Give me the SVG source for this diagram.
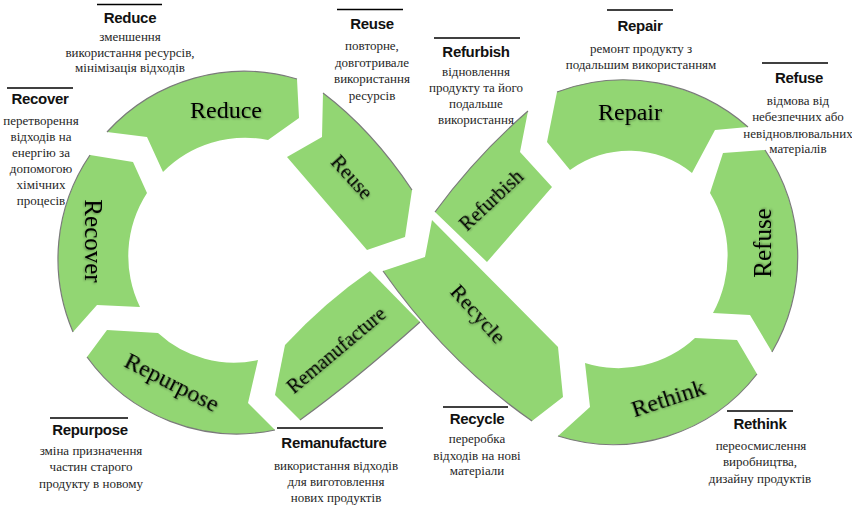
<svg xmlns="http://www.w3.org/2000/svg" width="852" height="507" viewBox="0 0 852 507">
<defs>
<filter id="ts" x="-10%" y="-30%" width="130%" height="160%">
<feDropShadow dx="1" dy="1" stdDeviation="0.8" flood-color="#000" flood-opacity="0.35"/>
</filter>
<style>
.seg{fill:#92D673;stroke:none}
.edge{fill:none;stroke:#7a7a7a;stroke-width:1.2}
.lbl{font-family:"Liberation Serif","Times New Roman",serif;font-size:24px;fill:#000;text-anchor:middle;filter:url(#ts)}
.hd{font-family:"Liberation Sans",Arial,sans-serif;font-weight:bold;font-size:15px;letter-spacing:-0.3px;fill:#111;text-anchor:middle}
.bd{font-family:"Liberation Serif","Times New Roman",serif;font-size:13px;fill:#262626;text-anchor:middle}
.rule{stroke:#000;stroke-width:1.3}
</style>
</defs>
<rect width="852" height="507" fill="#fff"/>

<g id="connectors"></g>

<g id="seg-reduce">
<path class="seg" d="M107,132 A185,185 0 0 1 297,79 L299,118 L268,140 A116,116 0 0 0 163,172 L147,137 Z"/>
<path class="edge" d="M107,132 A185,185 0 0 1 297,79"/>
<text class="lbl" transform="translate(226,110)" y="8">Reduce</text>
</g>

<g id="seg-recover">
<path class="seg" d="M90,155 L133,162 L147,193 A116,116 0 0 0 140,307 L97,305 L73,332 A185,185 0 0 1 90,155 Z"/>
<path class="edge" d="M73,332 A185,185 0 0 1 90,155"/>
<text class="lbl" style="font-size:25px" transform="translate(93,241) rotate(90)" y="8">Recover</text>
</g>

<g id="seg-repurpose">
<path class="seg" d="M87,357 L107,330 L158,333 A112,112 0 0 0 258,360 L248,403 L275,430 A185,185 0 0 1 87,357 Z"/>
<path class="edge" d="M275,430 A185,185 0 0 1 87,357"/>
<text class="lbl" transform="translate(172,382) rotate(27)" y="8">Repurpose</text>
</g>

<g id="seg-remanufacture">
<path class="seg" d="M370,271 L420,322 Q354,381 300,420 L275,395 L285,345 Q325,302 370,271 Z"/>
<path class="edge" d="M420,322 Q354,381 300,420"/>
<text class="lbl" style="font-size:20px" transform="translate(336,350) rotate(-40)" y="7">Remanufacture</text>
</g>

<g id="seg-reuse">
<path class="seg" d="M323,93 Q372,130 412,190 L405,237 L367,250 L287,157 L322,137 Z"/>
<path class="edge" d="M323,93 Q372,130 412,190"/>
<text class="lbl" style="font-size:21px" transform="translate(352,177) rotate(48)" y="7">Reuse</text>
</g>

<g id="seg-refurbish">
<path class="seg" d="M528,111 Q476,156 435,212 L487,262 L552,187 L520,152 Z"/>
<path class="edge" d="M528,111 Q476,156 435,212"/>
<text class="lbl" style="font-size:20px" transform="translate(491,200) rotate(-43)" y="7">Refurbish</text>
</g>

<g id="seg-recycle">
<path class="seg" d="M432,220 L558,347 L563,397 L532,421 Q447,362 383,271 L425,257 Z"/>
<path class="edge" d="M532,421 Q447,362 383,271"/>
<text class="lbl" style="font-size:22px" transform="translate(478,314) rotate(48)" y="7">Recycle</text>
</g>

<g id="seg-repair">
<path class="seg" d="M557,92 A188,188 0 0 1 748,127 L715,130 L692,173 A100,100 0 0 0 570,170 L547,142 Z"/>
<path class="edge" d="M557,92 A188,188 0 0 1 748,127"/>
<text class="lbl" transform="translate(630,112)" y="8">Repair</text>
</g>

<g id="seg-refuse">
<path class="seg" d="M765,150 A190,190 0 0 1 772,352 L750,315 L713,313 A120,120 0 0 0 710,193 L723,153 Z"/>
<path class="edge" d="M765,150 A190,190 0 0 1 772,352"/>
<text class="lbl" style="font-size:25px" transform="translate(763,243) rotate(-90)" y="8">Refuse</text>
</g>

<g id="seg-rethink">
<path class="seg" d="M757,374 A182,182 0 0 1 558,436 L590,407 L585,363 A112,112 0 0 0 695,338 L737,340 Z"/>
<path class="edge" d="M757,374 A182,182 0 0 1 558,436"/>
<text class="lbl" transform="translate(668,398) rotate(-18)" y="8">Rethink</text>
</g>

<g id="note-reduce">
<line class="rule" x1="97" y1="4.5" x2="162" y2="4.5"/>
<text class="hd" x="130" y="23">Reduce</text>
<text class="bd" x="130" y="41">зменшення</text>
<text class="bd" x="130" y="57">використання ресурсів,</text>
<text class="bd" x="130" y="72">мінімізація відходів</text>
</g>

<g id="note-recover">
<line class="rule" x1="7" y1="88" x2="73" y2="88"/>
<text class="hd" x="40" y="104">Recover</text>
<text class="bd" x="41" y="125">перетворення</text>
<text class="bd" x="41" y="141">відходів на</text>
<text class="bd" x="41" y="157">енергію за</text>
<text class="bd" x="41" y="173">допомогою</text>
<text class="bd" x="41" y="189">хімічних</text>
<text class="bd" x="41" y="205">процесів</text>
</g>

<g id="note-reuse">
<line class="rule" x1="337" y1="9.5" x2="403" y2="9.5"/>
<text class="hd" x="372" y="29">Reuse</text>
<text class="bd" x="372" y="50">повторне,</text>
<text class="bd" x="372" y="66.5">довготривале</text>
<text class="bd" x="372" y="83">використання</text>
<text class="bd" x="372" y="99.5">ресурсів</text>
</g>

<g id="note-refurbish">
<line class="rule" x1="434" y1="38" x2="520" y2="38"/>
<text class="hd" x="476" y="57">Refurbish</text>
<text class="bd" x="476" y="76">відновлення</text>
<text class="bd" x="476" y="92">продукту та його</text>
<text class="bd" x="476" y="108">подальше</text>
<text class="bd" x="476" y="124">використання</text>
</g>

<g id="note-repair">
<line class="rule" x1="607" y1="10" x2="673" y2="10"/>
<text class="hd" x="640" y="31">Repair</text>
<text class="bd" x="641" y="53">ремонт продукту з</text>
<text class="bd" x="641" y="69">подальшим використанням</text>
</g>

<g id="note-refuse">
<line class="rule" x1="762" y1="63" x2="828" y2="63"/>
<text class="hd" x="799" y="83">Refuse</text>
<text class="bd" x="798" y="105">відмова від</text>
<text class="bd" x="798" y="121">небезпечних або</text>
<text class="bd" x="798" y="138">невідновлювальних</text>
<text class="bd" x="798" y="153">матеріалів</text>
</g>

<g id="note-rethink">
<line class="rule" x1="727" y1="411" x2="793" y2="411"/>
<text class="hd" x="760" y="429">Rethink</text>
<text class="bd" x="761" y="450">переосмислення</text>
<text class="bd" x="760" y="466">виробництва,</text>
<text class="bd" x="760" y="483">дизайну продуктів</text>
</g>

<g id="note-recycle">
<line class="rule" x1="443" y1="407" x2="508" y2="407"/>
<text class="hd" x="477" y="424">Recycle</text>
<text class="bd" x="477" y="443">переробка</text>
<text class="bd" x="477" y="460">відходів на нові</text>
<text class="bd" x="477" y="475">матеріали</text>
</g>

<g id="note-remanufacture">
<line class="rule" x1="277" y1="428" x2="383" y2="428"/>
<text class="hd" x="334" y="448">Remanufacture</text>
<text class="bd" x="336" y="470">використання відходів</text>
<text class="bd" x="336" y="486">для виготовлення</text>
<text class="bd" x="336" y="502">нових продуктів</text>
</g>

<g id="note-repurpose">
<line class="rule" x1="50" y1="418" x2="128" y2="418"/>
<text class="hd" x="90" y="435">Repurpose</text>
<text class="bd" x="91" y="455">зміна призначення</text>
<text class="bd" x="91" y="471">частин старого</text>
<text class="bd" x="91" y="488">продукту в новому</text>
</g>
</svg>
